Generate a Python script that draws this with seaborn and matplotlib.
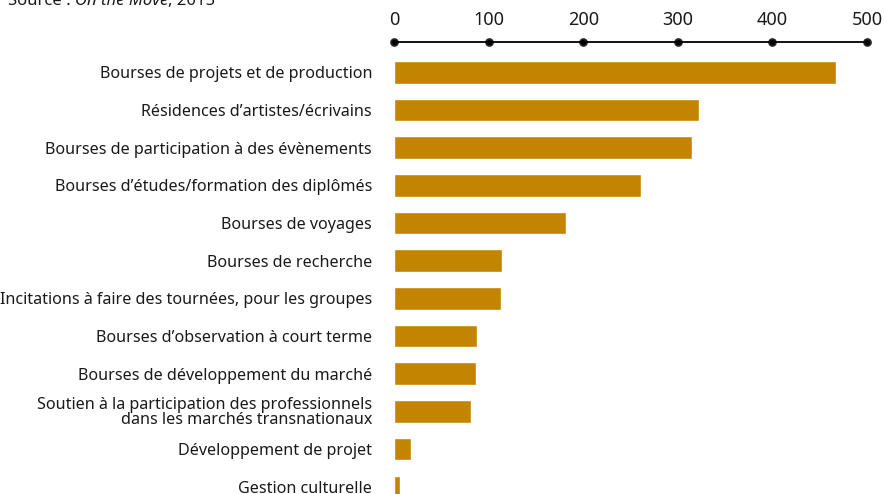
import matplotlib
matplotlib.use("Agg")
import matplotlib.pyplot as plt
import seaborn as sns
import pandas as pd

# Number of mobility funding schemes by type
categories = [
    "Bourses de projets et de production",
    "Résidences d’artistes/écrivains",
    "Bourses de participation à des évènements",
    "Bourses d’études/formation des diplômés",
    "Bourses de voyages",
    "Bourses de recherche",
    "Incitations à faire des tournées, pour les groupes",
    "Bourses d’observation à court terme",
    "Bourses de développement du marché",
    "Soutien à la participation des professionnels\ndans les marchés transnationaux",
    "Développement de projet",
    "Gestion culturelle",
]
values = [467, 322, 315, 261, 182, 114, 113, 88, 86, 81, 18, 6]
x_ticks = [0, 100, 200, 300, 400, 500]

df = pd.DataFrame({"category": categories, "value": values})

sns.set_theme(style="white")
plt.rcParams["font.family"] = ["Noto Sans", "DejaVu Sans"]

fig = plt.figure(figsize=(8.85, 4.94), dpi=100)
ax = fig.add_axes([394.3 / 885, 0.0, (867 - 394.3) / 885, 1 - 41.7 / 494])

sns.barplot(data=df, x="value", y="category", orient="h", color="#C38400",
            saturation=1, width=0.6, ax=ax)

ax.set_xlim(0, 500)
ax.set_ylim(11.19, -0.81)
ax.set_xlabel("")
ax.set_ylabel("")

# Axis on top: a plain line with round dots at each tick
ax.xaxis.tick_top()
ax.set_xticks(x_ticks)
ax.set_xticklabels([str(t) for t in x_ticks], fontsize=13, color="#1a1a1a")
ax.tick_params(axis="x", which="major", pad=9, length=0)
for tick in ax.xaxis.get_major_ticks():
    tick.tick2line.set_marker("o")
    tick.tick2line.set_markersize(5)
    tick.tick2line.set_color("black")
    tick.tick2line.set_clip_on(False)
for side in ["bottom", "left", "right"]:
    ax.spines[side].set_visible(False)
ax.spines["top"].set_visible(True)
ax.spines["top"].set_color("black")
ax.spines["top"].set_linewidth(1.3)

ax.tick_params(axis="y", length=0, pad=16)
for lbl in ax.get_yticklabels():
    lbl.set_fontsize(11.6)
    lbl.set_color("#1a1a1a")
    lbl.set_linespacing(0.85)

# Source line, partly above the top edge
src = fig.text(0.009, 0.997, "Source : ", fontsize=12, color="#1a1a1a",
               va="center", ha="left")
mv = ax.annotate("On the Move", xy=(1, 0), xycoords=src, va="bottom", ha="left",
                 fontsize=12, style="italic", color="#1a1a1a", annotation_clip=False)
ax.annotate(", 2015", xy=(1, 0), xycoords=mv, va="bottom", ha="left",
            fontsize=12, color="#1a1a1a", annotation_clip=False)

fig.savefig("out.png", dpi=100)
